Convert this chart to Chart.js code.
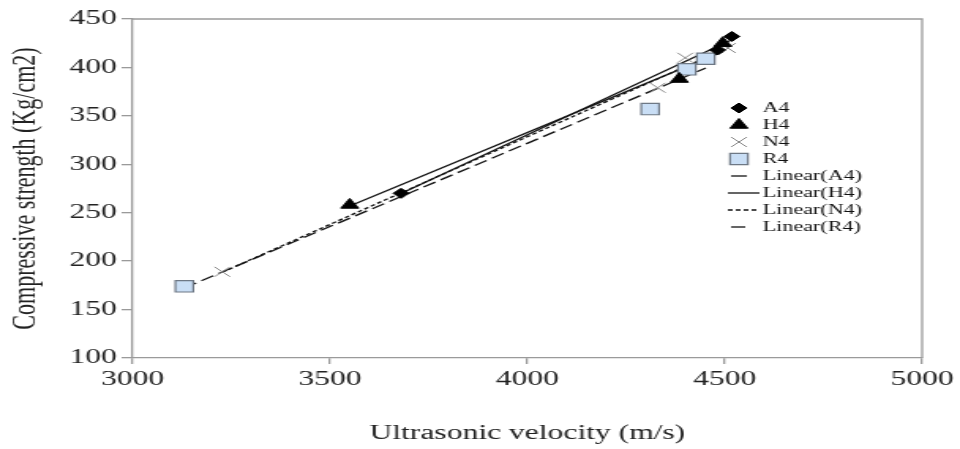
<!DOCTYPE html>
<html>
<head>
<meta charset="utf-8">
<script src="https://cdn.jsdelivr.net/npm/chart.js@4/dist/chart.umd.min.js"></script>
<style>
  html, body { margin: 0; padding: 0; background: #fff; }
  #wrap { width: 960px; height: 449px; overflow: hidden; }
  canvas { display: block; }
</style>
</head>
<body>
<div id="wrap">
  <!-- the original figure is stretched sideways, so the canvas is drawn narrow and widened by CSS -->
  <canvas id="chart" width="608" height="449" style="width:960px;height:449px"></canvas>
</div>
<script>
// Data
const seriesNames = ['A4', 'H4', 'N4', 'R4'];
const a4Velocity = [3680, 4482, 4518];
const a4Strength = [270, 418, 432];
const h4Velocity = [3550, 4385, 4495];
const h4Strength = [258, 388, 425];
const n4Velocity = [3227, 4330, 4400, 4508];
const n4Strength = [189, 379, 410, 420];
const r4Velocity = [3131, 4311, 4404, 4452];
const r4Strength = [174, 357, 398, 409];
const xTicks = [3000, 3500, 4000, 4500, 5000];
const yTicks = [100, 150, 200, 250, 300, 350, 400, 450];

const SERIF = '"Liberation Serif", "Times New Roman", serif';
const AXIS_GREY = '#9a9a9a';

function toPoints(xs, ys) {
  return xs.map((x, i) => ({ x: x, y: ys[i] }));
}

// least squares trend line between the smallest and largest x of a series
function trend(xs, ys) {
  const n = xs.length;
  const mx = xs.reduce((a, b) => a + b, 0) / n;
  const my = ys.reduce((a, b) => a + b, 0) / n;
  let sxy = 0, sxx = 0;
  xs.forEach((x, i) => { sxy += (x - mx) * (ys[i] - my); sxx += (x - mx) * (x - mx); });
  const slope = sxy / sxx;
  const lo = Math.min(...xs), hi = Math.max(...xs);
  return [{ x: lo, y: my + slope * (lo - mx) }, { x: hi, y: my + slope * (hi - mx) }];
}

const markerStyles = [
  { pointStyle: 'rectRot', radius: 5, fill: '#000', stroke: '#000', width: 1 },
  { pointStyle: 'triangle', radius: 6.5, fill: '#000', stroke: '#000', width: 1 },
  { pointStyle: 'crossRot', radius: 7, fill: '#888', stroke: '#888', width: 1 },
  { pointStyle: 'rect', radius: 8, fill: '#c9def5', stroke: '#6e7885', width: 1.2 }
];
const lineDashes = [[], [], [3, 2], [9, 4]];
const allX = [a4Velocity, h4Velocity, n4Velocity, r4Velocity];
const allY = [a4Strength, h4Strength, n4Strength, r4Strength];

const datasets = [];
seriesNames.forEach((name, i) => {
  const m = markerStyles[i];
  datasets.push({
    label: name,
    data: toPoints(allX[i], allY[i]),
    showLine: false,
    pointStyle: m.pointStyle,
    pointRadius: m.radius,
    pointBackgroundColor: m.fill,
    pointBorderColor: m.stroke,
    pointBorderWidth: m.width,
    order: 0
  });
});
seriesNames.forEach((name, i) => {
  datasets.push({
    label: 'Linear(' + name + ')',
    data: trend(allX[i], allY[i]),
    showLine: true,
    borderColor: '#111',
    borderWidth: 1.3,
    borderDash: lineDashes[i],
    pointRadius: 0,
    order: 1
  });
});

// top and right edges of the plot box
const framePlugin = {
  id: 'frame',
  beforeDatasetsDraw(chart) {
    const { ctx, chartArea: a } = chart;
    ctx.save();
    ctx.strokeStyle = AXIS_GREY;
    ctx.lineWidth = 1.3;
    ctx.beginPath();
    ctx.moveTo(a.left, a.top);
    ctx.lineTo(a.right, a.top);
    ctx.lineTo(a.right, a.bottom);
    ctx.stroke();
    ctx.restore();
  }
};

// legend sitting inside the plot area, on the right
const legendPlugin = {
  id: 'innerLegend',
  afterDraw(chart) {
    const ctx = chart.ctx;
    const textX = 483, markX = 468, top = 108, step = 17;
    const sampleSpans = [[463, 473], [461, 481], [461, 481], [463, 476]];
    ctx.save();
    ctx.font = '14px ' + SERIF;
    ctx.textBaseline = 'middle';
    chart.data.datasets.forEach((ds, i) => {
      const y = top + i * step;
      if (i < seriesNames.length) {
        const m = markerStyles[i];
        ctx.fillStyle = m.fill;
        ctx.strokeStyle = m.stroke;
        ctx.lineWidth = m.width;
        Chart.helpers.drawPoint(ctx, { pointStyle: m.pointStyle, radius: m.radius, rotation: 0, borderWidth: m.width }, markX, y);
      } else {
        const k = i - seriesNames.length;
        ctx.strokeStyle = '#111';
        ctx.lineWidth = 1.3;
        ctx.setLineDash(lineDashes[k]);
        ctx.beginPath();
        ctx.moveTo(sampleSpans[k][0], y);
        ctx.lineTo(sampleSpans[k][1], y);
        ctx.stroke();
        ctx.setLineDash([]);
      }
      ctx.fillStyle = '#111';
      ctx.fillText(ds.label, textX, y);
    });
    ctx.restore();
  }
};

new Chart(document.getElementById('chart'), {
  type: 'scatter',
  data: { datasets: datasets },
  options: {
    responsive: false,
    devicePixelRatio: 1,
    animation: false,
    layout: { padding: { top: 19, right: 21, left: 0, bottom: 0 } },
    plugins: { legend: { display: false }, tooltip: { enabled: false } },
    scales: {
      x: {
        type: 'linear',
        min: xTicks[0],
        max: xTicks[xTicks.length - 1],
        afterBuildTicks: s => { s.ticks = xTicks.map(v => ({ value: v })); },
        afterFit: s => { s.height = 91; },
        border: { color: AXIS_GREY, width: 1.3 },
        grid: { drawOnChartArea: false, drawTicks: true, tickLength: 6, color: AXIS_GREY, lineWidth: 1.3 },
        ticks: { color: '#222', padding: 4, maxRotation: 0, callback: v => String(v), font: { family: SERIF, size: 20 } },
        title: { display: true, text: 'Ultrasonic velocity (m/s)', color: '#222', padding: { top: 0, bottom: 3 }, font: { family: SERIF, size: 20 } }
      },
      y: {
        type: 'linear',
        min: yTicks[0],
        max: yTicks[yTicks.length - 1],
        afterBuildTicks: s => { s.ticks = yTicks.map(v => ({ value: v })); },
        afterFit: s => { s.width = 84; },
        border: { color: AXIS_GREY, width: 1.3 },
        grid: { drawOnChartArea: false, drawTicks: true, tickLength: 7, color: AXIS_GREY, lineWidth: 1.3 },
        ticks: { color: '#222', padding: 3, callback: v => String(v), font: { family: SERIF, size: 20 } },
        title: { display: true, text: 'Compressive strength (Kg/cm2)', color: '#222', padding: { top: 3, bottom: 0 }, font: { family: SERIF, size: 22 } }
      }
    }
  },
  plugins: [framePlugin, legendPlugin]
});
</script>
</body>
</html>
